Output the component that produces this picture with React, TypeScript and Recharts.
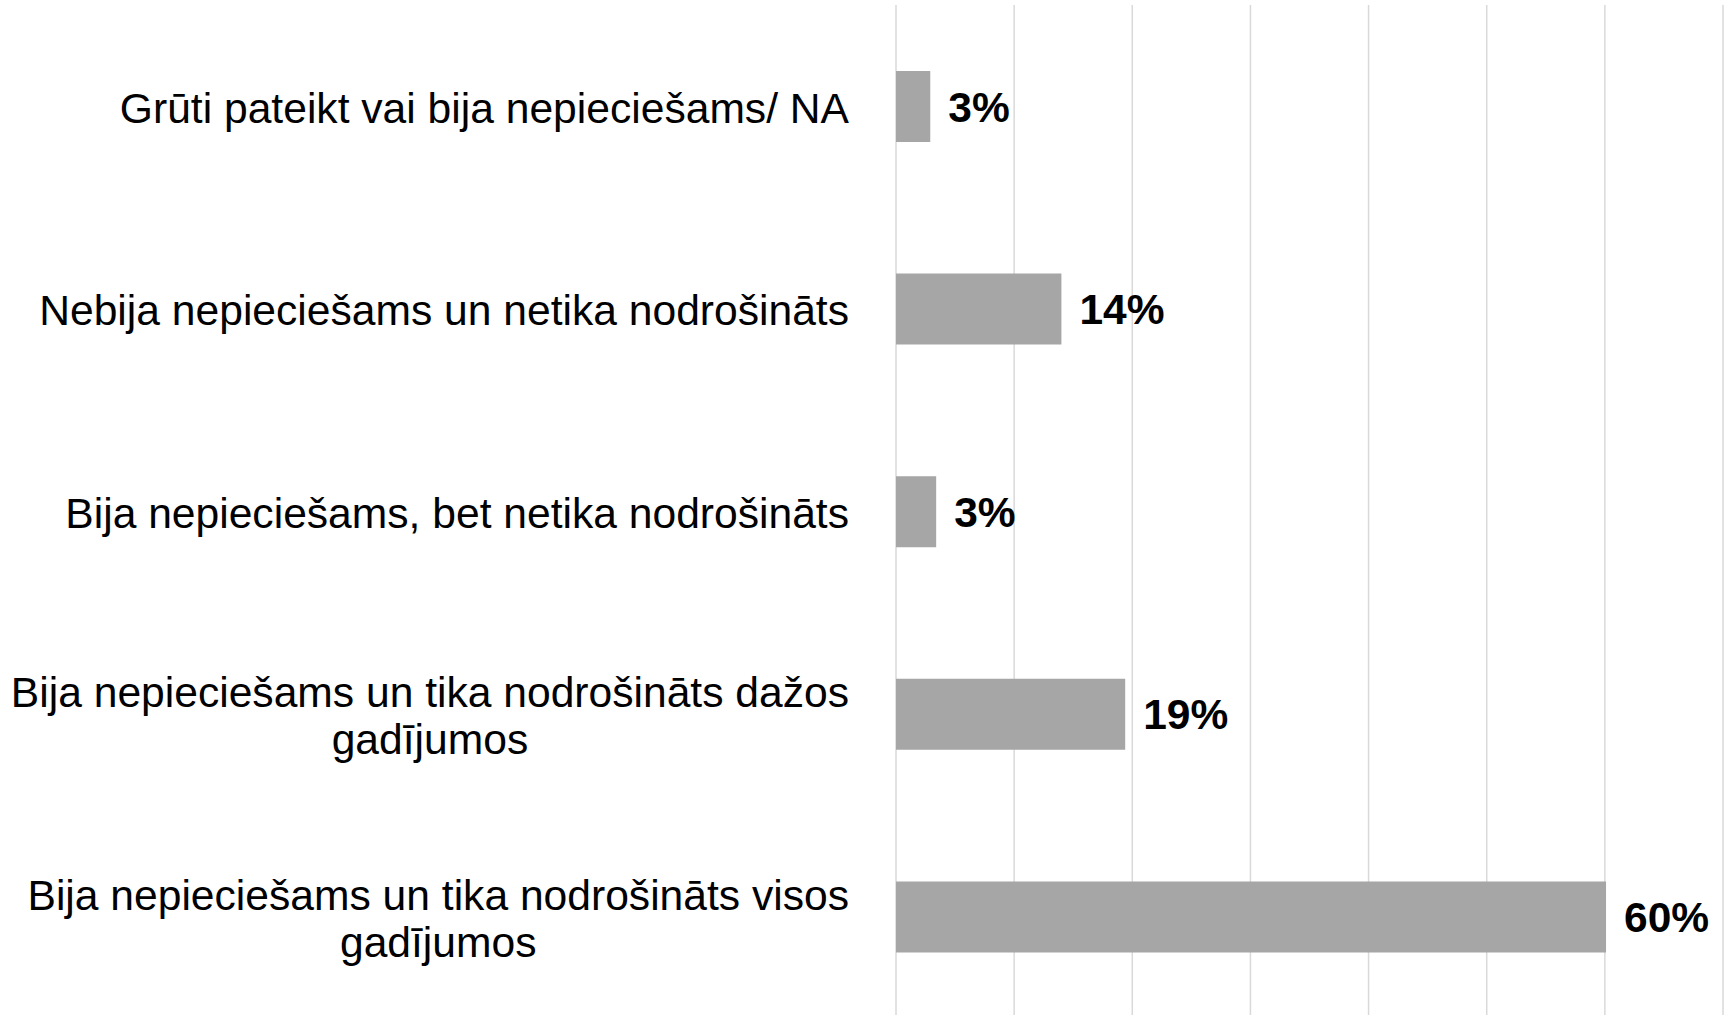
import { BarChart, Bar, XAxis, YAxis, CartesianGrid, LabelList } from 'recharts';

const categories = [
  'Grūti pateikt vai bija nepieciešams/ NA',
  'Nebija nepieciešams un netika nodrošināts',
  'Bija nepieciešams, bet netika nodrošināts',
  'Bija nepieciešams un tika nodrošināts dažos\ngadījumos',
  'Bija nepieciešams un tika nodrošināts visos\ngadījumos',
];

// shares in %, labels show them rounded
const shares = [2.9, 14, 3.4, 19.4, 60.1];

const xTicks = [0, 10, 20, 30, 40, 50, 60, 70];

const data = categories.map((name, i) => ({ name, value: shares[i] }));

const FONT = '"Liberation Sans", Arial, sans-serif';

function CategoryTick({ x, y, payload }: any) {
  return (
    <foreignObject x={x - 896} y={y - 58} width={855} height={120}>
      <div
        style={{
          display: 'flex',
          alignItems: 'center',
          justifyContent: 'flex-end',
          height: '100%',
        }}
      >
        <span
          style={{
            textAlign: 'center',
            whiteSpace: 'pre',
            fontFamily: FONT,
            fontSize: 42.6,
            lineHeight: '47px',
            color: '#000',
          }}
        >
          {payload.value}
        </span>
      </div>
    </foreignObject>
  );
}

export default function App() {
  return (
    <div style={{ position: 'absolute', left: 0, top: 0, background: '#fff' }}>
      <BarChart
        width={1725}
        height={1020}
        data={data}
        layout="vertical"
        margin={{ top: 5, right: 2, bottom: 2, left: 0 }}
      >
        <CartesianGrid horizontal={false} stroke="#d9d9d9" strokeWidth={1.5} />
        <XAxis type="number" domain={[0, 70]} ticks={xTicks} hide />
        <YAxis
          type="category"
          dataKey="name"
          width={896}
          axisLine={false}
          tickLine={false}
          tickMargin={0}
          tick={<CategoryTick />}
          interval={0}
        />
        <Bar dataKey="value" fill="#a6a6a6" barSize={71} isAnimationActive={false}>
          <LabelList
            dataKey="value"
            position="right"
            offset={18}
            formatter={(v: any) => `${Math.round(v)}%`}
            style={{ fontFamily: FONT, fontSize: 42.5, fontWeight: 'bold', fill: '#000' }}
          />
        </Bar>
      </BarChart>
    </div>
  );
}
